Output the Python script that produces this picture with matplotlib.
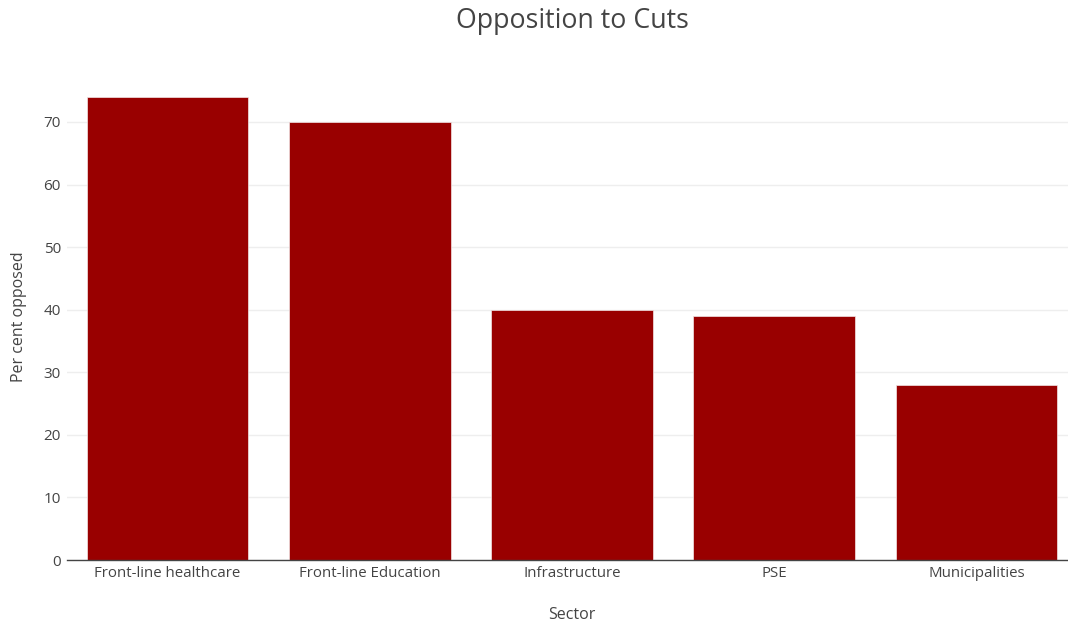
import matplotlib.pyplot as plt

# Chart data
sectors = ["Front-line healthcare", "Front-line Education", "Infrastructure", "PSE", "Municipalities"]
opposed = [74, 70, 40, 39, 28]
y_ticks = [0, 10, 20, 30, 40, 50, 60, 70]

plt.rcParams['font.family'] = ['Open Sans', 'DejaVu Sans']
text_color = '#444444'

fig = plt.figure(figsize=(10.68, 6.23), dpi=100)
W, H = 1068, 623
left, right, top, bottom = 66.5, 1077.5, 72.6, 560
ax = fig.add_axes([left / W, 1 - bottom / H, (right - left) / W, (bottom - top) / H])

x = range(len(sectors))
ax.bar(x, opposed, width=0.8, color='#990000', edgecolor='#f2e6e6', linewidth=0.5, zorder=3)

ax.set_xlim(-0.5, len(sectors) - 0.5)
ax.set_ylim(0, max(opposed) * 1.0526)
ax.set_yticks(y_ticks)
ax.set_xticks(list(x))
ax.set_xticklabels(sectors)

ax.grid(axis='y', color='#eeeeee', linewidth=1, zorder=0)
for side in ['top', 'right', 'left']:
    ax.spines[side].set_visible(False)
ax.spines['bottom'].set_color('#444444')
ax.spines['bottom'].set_linewidth(1)
ax.spines['bottom'].set_zorder(4)

ax.tick_params(axis='x', length=0, labelsize=10.8, colors=text_color, pad=4)
ax.tick_params(axis='y', length=0, labelsize=11, colors=text_color, pad=4)

ax.set_ylabel('Per cent opposed', fontsize=11.5, color=text_color, labelpad=12)
ax.set_xlabel('Sector', fontsize=11.5, color=text_color, labelpad=19)

fig.text(572 / W, 1 - 21 / H, 'Opposition to Cuts', ha='center', va='center',
         fontsize=19.3, color=text_color)

fig.savefig('out.png', dpi=100)
